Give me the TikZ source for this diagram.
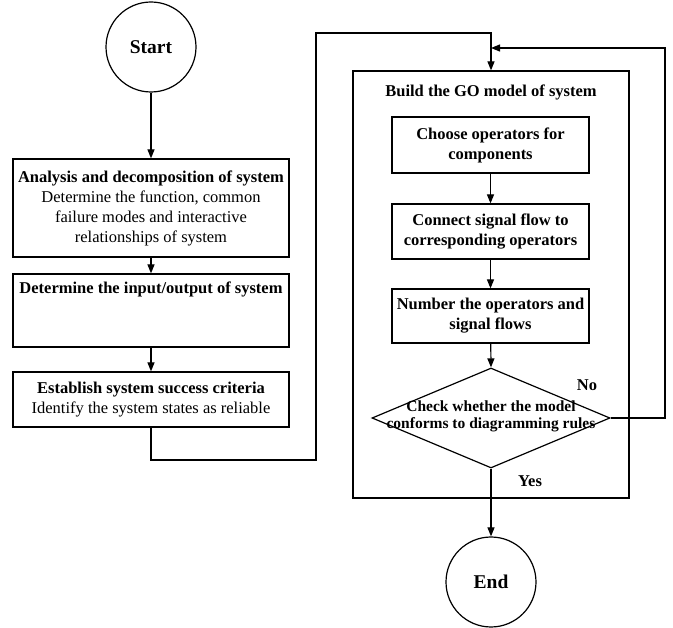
\documentclass[tikz,border=0pt]{standalone}
\usepackage{fontspec}
\setmainfont{Liberation Serif}
\usetikzlibrary{arrows.meta,shapes.geometric}

\begin{document}
\begin{tikzpicture}[x=1pt,y=-1pt,line width=1.2pt,
  arr/.style={-{Triangle[length=9pt,width=7pt]}},
  box/.style={draw,rectangle,inner sep=0pt,align=center,
    font=\fontsize{16.5}{20}\selectfont},
  inbox/.style={box,minimum width=197pt,font=\bfseries\fontsize{16.5}{20}\selectfont},
  term/.style={draw,circle,minimum size=90pt,inner sep=0pt,
    font=\bfseries\fontsize{19.5}{22}\selectfont},
  lbl/.style={font=\bfseries\fontsize{16.5}{20}\selectfont,inner sep=0pt}]

\useasboundingbox (0,0) rectangle (673,628);

% left column
\node[term] (start) at (151,47) {Start};
\node[box,minimum width=276pt,minimum height=98pt] (b1) at (151,208)
  {\textbf{Analysis and decomposition of system}\\Determine the function, common\\failure modes and interactive\\relationships of system};
\node[box,minimum width=276pt,minimum height=73pt] (b2) at (151,310.5)
  {\textbf{Determine the input/output of system}\\\strut\\\strut};
\node[box,minimum width=276pt,minimum height=55pt] (b3) at (151,399.5)
  {\textbf{Establish system success criteria}\\Identify the system states as reliable};

% GO model block
\node[draw,rectangle,minimum width=276pt,minimum height=427pt,inner sep=0pt] (go) at (491,284.5) {};
\node[lbl] (gotitle) at (491,92) {Build the GO model of system};
\node[inbox,minimum height=56pt] (c1) at (490.5,145) {Choose operators for\\components};
\node[inbox,minimum height=55pt] (c2) at (490.5,231.5) {Connect signal flow to\\corresponding operators};
\node[inbox,minimum height=54pt] (c3) at (490.5,316) {Number the operators and\\signal flows};
\node[draw,diamond,aspect=2.38,minimum width=238pt,minimum height=100pt,inner sep=0pt] (chk) at (491,418) {};
\node[align=center,inner sep=0pt,font=\bfseries\fontsize{15.5}{17}\selectfont] (chktext) at (491,416)
  {Check whether the model\\conforms to diagramming rules};
\node[term] (end) at (491,582) {End};

\node[lbl] (no) at (587,385) {No};
\node[lbl] (yes) at (530,481) {Yes};

% routing points
\coordinate (j1) at (151,460);
\coordinate (j2) at (316,460);
\coordinate (j3) at (316,33);
\coordinate (j4) at (491,33);
\coordinate (m) at (491,48);
\coordinate (r1) at (665,418);
\coordinate (r2) at (665,48);

% connectors
\draw[arr] (start) -- (b1);
\draw[arr] (b1) -- (b2);
\draw[arr] (b2) -- (b3);
\draw[arr] (b3.south) -- (j1) -- (j2) -- (j3) -- (j4) -- (go.north);
\draw[arr] (c1) -- (c2);
\draw[arr] (c2) -- (c3);
\draw[arr] (c3) -- (chk.north);
\draw[arr] (chk.east) -- (r1) -- (r2) -- (m);
\draw[arr] (chk.south) -- (end);
\end{tikzpicture}
\end{document}
